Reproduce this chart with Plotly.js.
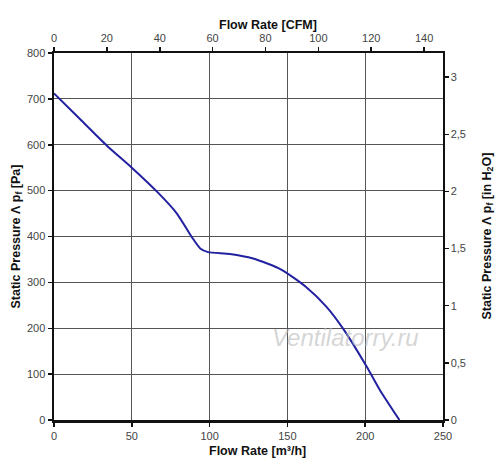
<!DOCTYPE html>
<html>
<head>
<meta charset="utf-8">
<script src="https://cdn.plot.ly/plotly-3.0.1.min.js"></script>
<style>html,body{margin:0;padding:0;background:#fff;}#chart{width:500px;height:473px;}</style>
</head>
<body>
<div id="chart"></div>
<script>
// Flow rate in m³/h and static pressure in Pa
var flowM3h = [0, 17, 34, 50, 67, 79, 88.5, 94, 99, 113, 128, 146, 162, 175, 186, 201, 209.5, 222];
var pressurePa = [712, 655, 598, 550, 495, 450, 399, 374, 366, 362, 352, 328, 290, 247, 198, 116, 65, 0];
var M3H_PER_CFM = 1.699;
var PA_PER_INH2O = 249.09;
var flowCFM = flowM3h.map(function(v){return v / M3H_PER_CFM;});
var pressureInH2O = pressurePa.map(function(v){return v / PA_PER_INH2O;});

var font = 'Liberation Sans, Arial, sans-serif';
var tickFont = {family: font, size: 11, color: '#444'};
var titleFont = {family: font, size: 12.5, color: '#111', weight: 'bold'};

var traces = [
  {x: flowM3h, y: pressurePa, type: 'scatter', mode: 'lines',
   line: {color: '#2222a0', width: 2, shape: 'spline', smoothing: 0.6},
   hoverinfo: 'x+y', showlegend: false},
  {x: flowCFM, y: pressureInH2O, xaxis: 'x2', yaxis: 'y2', type: 'scatter', mode: 'lines',
   line: {color: 'rgba(0,0,0,0)', width: 0}, hoverinfo: 'skip', showlegend: false}
];

var layout = {
  width: 500, height: 473,
  margin: {l: 54, r: 57, t: 53, b: 53},
  paper_bgcolor: '#fff', plot_bgcolor: '#fff',
  separators: ', ',
  showlegend: false,
  xaxis: {range: [0, 250], dtick: 50, tick0: 0, showgrid: true, gridcolor: '#555', gridwidth: 1.2,
          zeroline: false, showline: true, linecolor: '#111', linewidth: 2.5,
          ticks: 'outside', ticklen: 4, tickcolor: '#111', tickwidth: 1.5, tickfont: tickFont, fixedrange: true},
  yaxis: {range: [0, 800], dtick: 100, tick0: 0, showgrid: true, gridcolor: '#555', gridwidth: 1.2,
          zeroline: false, showline: true, linecolor: '#111', linewidth: 2.5,
          ticks: 'outside', ticklen: 4, tickcolor: '#111', tickwidth: 1.5, tickfont: tickFont, fixedrange: true},
  xaxis2: {overlaying: 'x', side: 'top', range: [0, 250 / M3H_PER_CFM], dtick: 20, tick0: 0,
           showgrid: false, zeroline: false, showline: true, linecolor: '#111', linewidth: 2.5,
           ticks: 'outside', ticklen: 4, tickcolor: '#111', tickwidth: 1.5, tickfont: tickFont, fixedrange: true},
  yaxis2: {overlaying: 'y', side: 'right', range: [0, 800 / PA_PER_INH2O], dtick: 0.5, tick0: 0,
           showgrid: false, zeroline: false, showline: true, linecolor: '#111', linewidth: 1.5,
           ticks: 'outside', ticklen: 4, tickcolor: '#111', tickwidth: 1.5, tickfont: tickFont, fixedrange: true},
  annotations: [
    {text: 'Flow Rate [CFM]', xref: 'paper', yref: 'paper', x: 0.549, y: 1, yshift: 28,
     xanchor: 'center', yanchor: 'middle', showarrow: false, font: titleFont},
    {text: 'Flow Rate [m³/h]', xref: 'paper', yref: 'paper', x: 0.522, y: 0, yshift: -31,
     xanchor: 'center', yanchor: 'middle', showarrow: false, font: titleFont},
    {text: 'Static Pressure Λ p<sub>f</sub> [Pa]', xref: 'paper', yref: 'paper', x: 0, xshift: -38, y: 0.5,
     xanchor: 'center', yanchor: 'middle', textangle: -90, showarrow: false, font: titleFont},
    {text: 'Static Pressure Λ p<sub>f</sub> [in H<sub>2</sub>O]', xref: 'paper', yref: 'paper', x: 1, xshift: 44, y: 0.5,
     xanchor: 'center', yanchor: 'middle', textangle: -90, showarrow: false, font: titleFont},
    {text: '<i>Ventilatorry.ru</i>', xref: 'paper', yref: 'paper', x: 0.75, y: 0.226,
     xanchor: 'center', yanchor: 'middle', showarrow: false,
     font: {family: font, size: 24, color: 'rgba(185,185,185,0.6)'}}
  ]
};

Plotly.newPlot('chart', traces, layout, {displayModeBar: false, staticPlot: true});
</script>
</body>
</html>
